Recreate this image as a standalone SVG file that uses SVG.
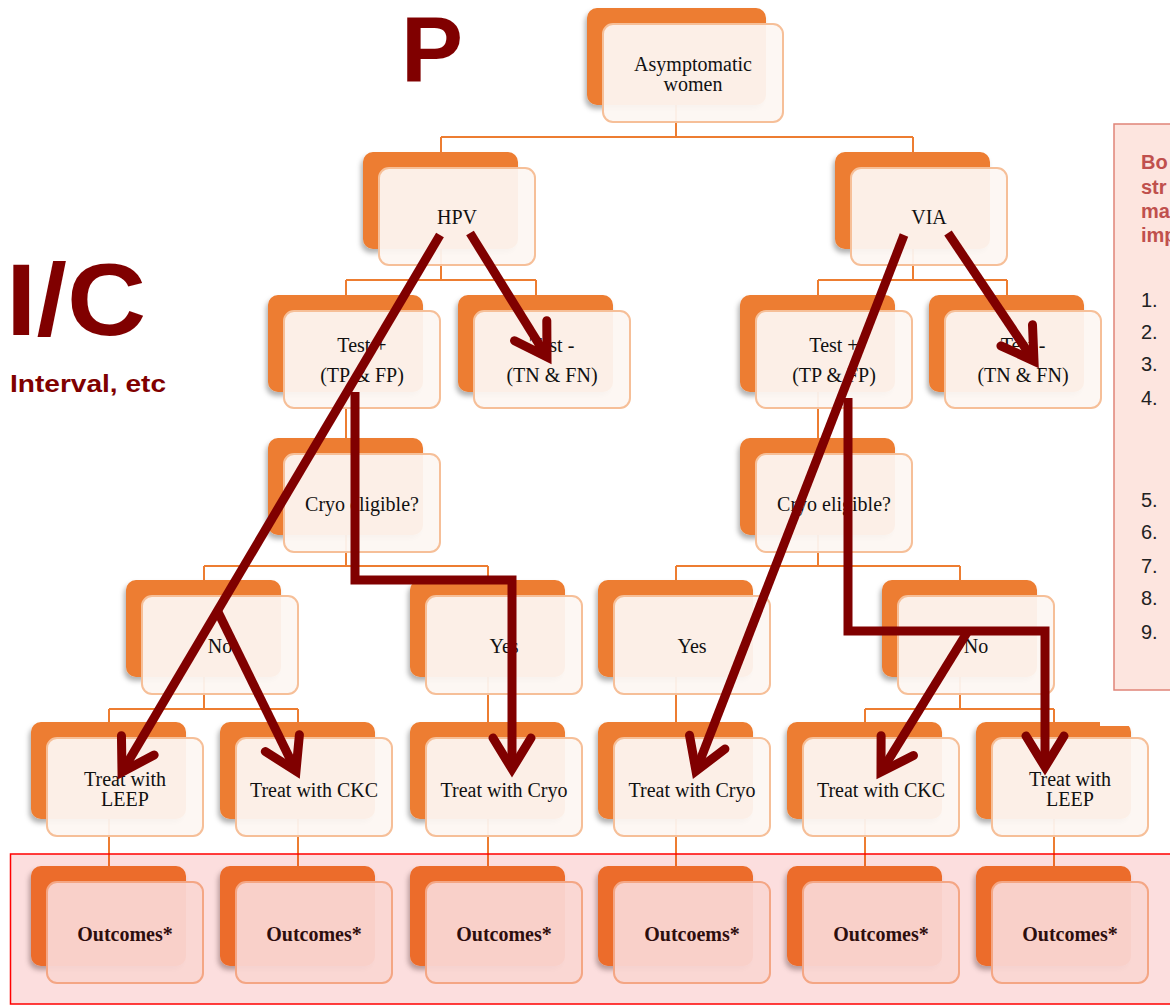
<svg xmlns="http://www.w3.org/2000/svg" width="1170" height="1006" viewBox="0 0 1170 1006">
  <style>
    .back { fill: #ed7d31; filter: url(#sh); }
    .front { fill: #fdf6f2; fill-opacity: 0.94; stroke: #f6bf98; stroke-width: 2; }
    .lbl { font-family: "Liberation Serif", "Times New Roman", serif; font-size: 20px; fill: #111; text-anchor: middle; }
    .bold { font-weight: bold; }
    .conn { stroke: #ed7d31; stroke-width: 2; fill: none; }
    .arrow { stroke: #800000; stroke-width: 9; fill: none; stroke-linejoin: miter; marker-end: url(#vh); }
    .big { font-family: "Liberation Sans", Arial, sans-serif; font-weight: bold; fill: #800000; }
    .pnlHead { font-family: "Liberation Sans", Arial, sans-serif; font-weight: bold; font-size: 20px; fill: #c0504d; }
    .pnlNum { font-family: "Liberation Sans", Arial, sans-serif; font-size: 20px; fill: #222; }
  </style>
  <defs>
    <filter id="sh" x="-15%" y="-15%" width="130%" height="135%">
      <feDropShadow dx="-2" dy="4" stdDeviation="2.5" flood-color="#000" flood-opacity="0.3"/>
    </filter>
    <marker id="vh" markerUnits="userSpaceOnUse" viewBox="-45 -30 55 60" markerWidth="55" markerHeight="60" refX="0" refY="0" orient="auto" overflow="visible">
      <path d="M-31,-19 L0,0 L-31,19" fill="none" stroke="#800000" stroke-width="9" stroke-linecap="round" stroke-linejoin="miter"/>
    </marker>
  </defs>

  <rect width="1170" height="1006" fill="#fff"/>

  <!-- headings -->
  <text class="big" x="401" y="82" font-size="93">P</text>
  <text class="big" x="6" y="335" font-size="102" textLength="140" lengthAdjust="spacingAndGlyphs">I/C</text>
  <text class="big" x="10" y="392" font-size="24" textLength="156" lengthAdjust="spacingAndGlyphs">Interval, etc</text>

  <!-- side panel -->
  <g id="side-panel">
    <rect x="1114" y="124" width="70" height="566" fill="#fde5df" stroke="#e08478" stroke-width="1.5"/>
    <text class="pnlHead" x="1141" y="169">Bo</text>
    <text class="pnlHead" x="1141" y="194">str</text>
    <text class="pnlHead" x="1141" y="218">ma</text>
    <text class="pnlHead" x="1141" y="242">imp</text>
    <text class="pnlNum" x="1141" y="307">1.</text>
    <text class="pnlNum" x="1141" y="339">2.</text>
    <text class="pnlNum" x="1141" y="371">3.</text>
    <text class="pnlNum" x="1141" y="405">4.</text>
    <text class="pnlNum" x="1141" y="507">5.</text>
    <text class="pnlNum" x="1141" y="539">6.</text>
    <text class="pnlNum" x="1141" y="573">7.</text>
    <text class="pnlNum" x="1141" y="605">8.</text>
    <text class="pnlNum" x="1141" y="639">9.</text>
  </g>

  <!-- tree connectors -->
  <g id="connectors" class="conn">
    <path d="M676,105 V137 M441,137 H913 M441,137 V152 M913,137 V152"/>
    <path d="M441,249 V280 M346,280 H536 M346,280 V295 M536,280 V295"/>
    <path d="M913,249 V280 M818,280 H1007 M818,280 V295 M1007,280 V295"/>
    <path d="M346,392 V438 M818,392 V438"/>
    <path d="M346,535 V566 M204,566 H488 M204,566 V580 M488,566 V580"/>
    <path d="M818,535 V566 M676,566 H960 M676,566 V580 M960,566 V580"/>
    <path d="M204,677 V709 M109,709 H298 M109,709 V722 M298,709 V722"/>
    <path d="M488,677 V722 M676,677 V722"/>
    <path d="M960,677 V709 M865,709 H1054 M865,709 V722 M1054,709 V722"/>
    <path d="M109,819 V866 M298,819 V866 M488,819 V866 M676,819 V866 M865,819 V866 M1054,819 V866"/>
  </g>

  <!-- nodes -->
  <g id="n-root">
    <rect class="back" x="587" y="8" width="179" height="97" rx="10"/>
    <rect class="front" x="603" y="24" width="180" height="98" rx="10"/>
    <text class="lbl" x="693" y="71">Asymptomatic</text>
    <text class="lbl" x="693" y="91">women</text>
  </g>
  <g id="n-hpv">
    <rect class="back" x="363" y="152" width="155" height="97" rx="10"/>
    <rect class="front" x="379" y="168" width="156" height="97" rx="10"/>
    <text class="lbl" x="457" y="224">HPV</text>
  </g>
  <g id="n-via">
    <rect class="back" x="835" y="152" width="155" height="97" rx="10"/>
    <rect class="front" x="851" y="168" width="156" height="97" rx="10"/>
    <text class="lbl" x="929" y="224">VIA</text>
  </g>
  <g id="n-hpv-pos">
    <rect class="back" x="268" y="295" width="155" height="97" rx="10"/>
    <rect class="front" x="284" y="311" width="156" height="97" rx="10"/>
    <text class="lbl" x="362" y="352">Test +</text>
    <text class="lbl" x="362" y="382">(TP &amp; FP)</text>
  </g>
  <g id="n-hpv-neg">
    <rect class="back" x="458" y="295" width="155" height="97" rx="10"/>
    <rect class="front" x="474" y="311" width="156" height="97" rx="10"/>
    <text class="lbl" x="552" y="352">Test -</text>
    <text class="lbl" x="552" y="382">(TN &amp; FN)</text>
  </g>
  <g id="n-via-pos">
    <rect class="back" x="740" y="295" width="155" height="97" rx="10"/>
    <rect class="front" x="756" y="311" width="156" height="97" rx="10"/>
    <text class="lbl" x="834" y="352">Test +</text>
    <text class="lbl" x="834" y="382">(TP &amp; FP)</text>
  </g>
  <g id="n-via-neg">
    <rect class="back" x="929" y="295" width="155" height="97" rx="10"/>
    <rect class="front" x="945" y="311" width="156" height="97" rx="10"/>
    <text class="lbl" x="1023" y="352">Test -</text>
    <text class="lbl" x="1023" y="382">(TN &amp; FN)</text>
  </g>
  <g id="n-hpv-cryo">
    <rect class="back" x="268" y="438" width="155" height="97" rx="10"/>
    <rect class="front" x="284" y="454" width="156" height="98" rx="10"/>
    <text class="lbl" x="362" y="511">Cryo eligible?</text>
  </g>
  <g id="n-via-cryo">
    <rect class="back" x="740" y="438" width="155" height="97" rx="10"/>
    <rect class="front" x="756" y="454" width="156" height="98" rx="10"/>
    <text class="lbl" x="834" y="511">Cryo eligible?</text>
  </g>
  <g id="n-hpv-no">
    <rect class="back" x="126" y="580" width="155" height="97" rx="10"/>
    <rect class="front" x="142" y="596" width="156" height="98" rx="10"/>
    <text class="lbl" x="220" y="653">No</text>
  </g>
  <g id="n-hpv-yes">
    <rect class="back" x="410" y="580" width="155" height="97" rx="10"/>
    <rect class="front" x="426" y="596" width="156" height="98" rx="10"/>
    <text class="lbl" x="504" y="653">Yes</text>
  </g>
  <g id="n-via-yes">
    <rect class="back" x="598" y="580" width="155" height="97" rx="10"/>
    <rect class="front" x="614" y="596" width="156" height="98" rx="10"/>
    <text class="lbl" x="692" y="653">Yes</text>
  </g>
  <g id="n-via-no">
    <rect class="back" x="882" y="580" width="155" height="97" rx="10"/>
    <rect class="front" x="898" y="596" width="156" height="98" rx="10"/>
    <text class="lbl" x="976" y="653">No</text>
  </g>
  <g id="n-treat-leep-1">
    <rect class="back" x="31" y="722" width="155" height="97" rx="10"/>
    <rect class="front" x="47" y="738" width="156" height="98" rx="10"/>
    <text class="lbl" x="125" y="786">Treat with</text>
    <text class="lbl" x="125" y="806">LEEP</text>
  </g>
  <g id="n-treat-ckc-1">
    <rect class="back" x="220" y="722" width="155" height="97" rx="10"/>
    <rect class="front" x="236" y="738" width="156" height="98" rx="10"/>
    <text class="lbl" x="314" y="797">Treat with CKC</text>
  </g>
  <g id="n-treat-cryo-1">
    <rect class="back" x="410" y="722" width="155" height="97" rx="10"/>
    <rect class="front" x="426" y="738" width="156" height="98" rx="10"/>
    <text class="lbl" x="504" y="797">Treat with Cryo</text>
  </g>
  <g id="n-treat-cryo-2">
    <rect class="back" x="598" y="722" width="155" height="97" rx="10"/>
    <rect class="front" x="614" y="738" width="156" height="98" rx="10"/>
    <text class="lbl" x="692" y="797">Treat with Cryo</text>
  </g>
  <g id="n-treat-ckc-2">
    <rect class="back" x="787" y="722" width="155" height="97" rx="10"/>
    <rect class="front" x="803" y="738" width="156" height="98" rx="10"/>
    <text class="lbl" x="881" y="797">Treat with CKC</text>
  </g>
  <g id="n-treat-leep-2">
    <rect class="back" x="976" y="722" width="155" height="97" rx="10"/>
    <rect x="1100" y="718" width="34" height="8" fill="#fff"/>
    <rect class="front" x="992" y="738" width="156" height="98" rx="10"/>
    <text class="lbl" x="1070" y="786">Treat with</text>
    <text class="lbl" x="1070" y="806">LEEP</text>
  </g>
  <g id="n-out-1">
    <rect class="back" x="31" y="866" width="155" height="100" rx="10"/>
    <rect class="front" x="47" y="882" width="156" height="101" rx="10"/>
    <text class="lbl bold" x="125" y="941">Outcomes*</text>
  </g>
  <g id="n-out-2">
    <rect class="back" x="220" y="866" width="155" height="100" rx="10"/>
    <rect class="front" x="236" y="882" width="156" height="101" rx="10"/>
    <text class="lbl bold" x="314" y="941">Outcomes*</text>
  </g>
  <g id="n-out-3">
    <rect class="back" x="410" y="866" width="155" height="100" rx="10"/>
    <rect class="front" x="426" y="882" width="156" height="101" rx="10"/>
    <text class="lbl bold" x="504" y="941">Outcomes*</text>
  </g>
  <g id="n-out-4">
    <rect class="back" x="598" y="866" width="155" height="100" rx="10"/>
    <rect class="front" x="614" y="882" width="156" height="101" rx="10"/>
    <text class="lbl bold" x="692" y="941">Outcoems*</text>
  </g>
  <g id="n-out-5">
    <rect class="back" x="787" y="866" width="155" height="100" rx="10"/>
    <rect class="front" x="803" y="882" width="156" height="101" rx="10"/>
    <text class="lbl bold" x="881" y="941">Outcomes*</text>
  </g>
  <g id="n-out-6">
    <rect class="back" x="976" y="866" width="155" height="100" rx="10"/>
    <rect class="front" x="992" y="882" width="156" height="101" rx="10"/>
    <text class="lbl bold" x="1070" y="941">Outcomes*</text>
  </g>

  <!-- tinted outcome band -->
  <rect id="outcome-band" x="10.5" y="854" width="1170" height="150" fill="#e60000" fill-opacity="0.13" stroke="#ff0000" stroke-width="1.5"/>

  <!-- pathway arrows -->
  <g id="pathways" class="arrow">
    <path d="M440,235 L122,772"/>
    <path d="M218,612 L296,771"/>
    <path d="M355,392 V580 H512 V769"/>
    <path d="M470,233 L547,357"/>
    <path d="M904,235 L696,771"/>
    <path d="M948,233 L1034,361"/>
    <path d="M848,398 V631 H1045 V767"/>
    <path d="M968,631 L881,772"/>
  </g>
</svg>
